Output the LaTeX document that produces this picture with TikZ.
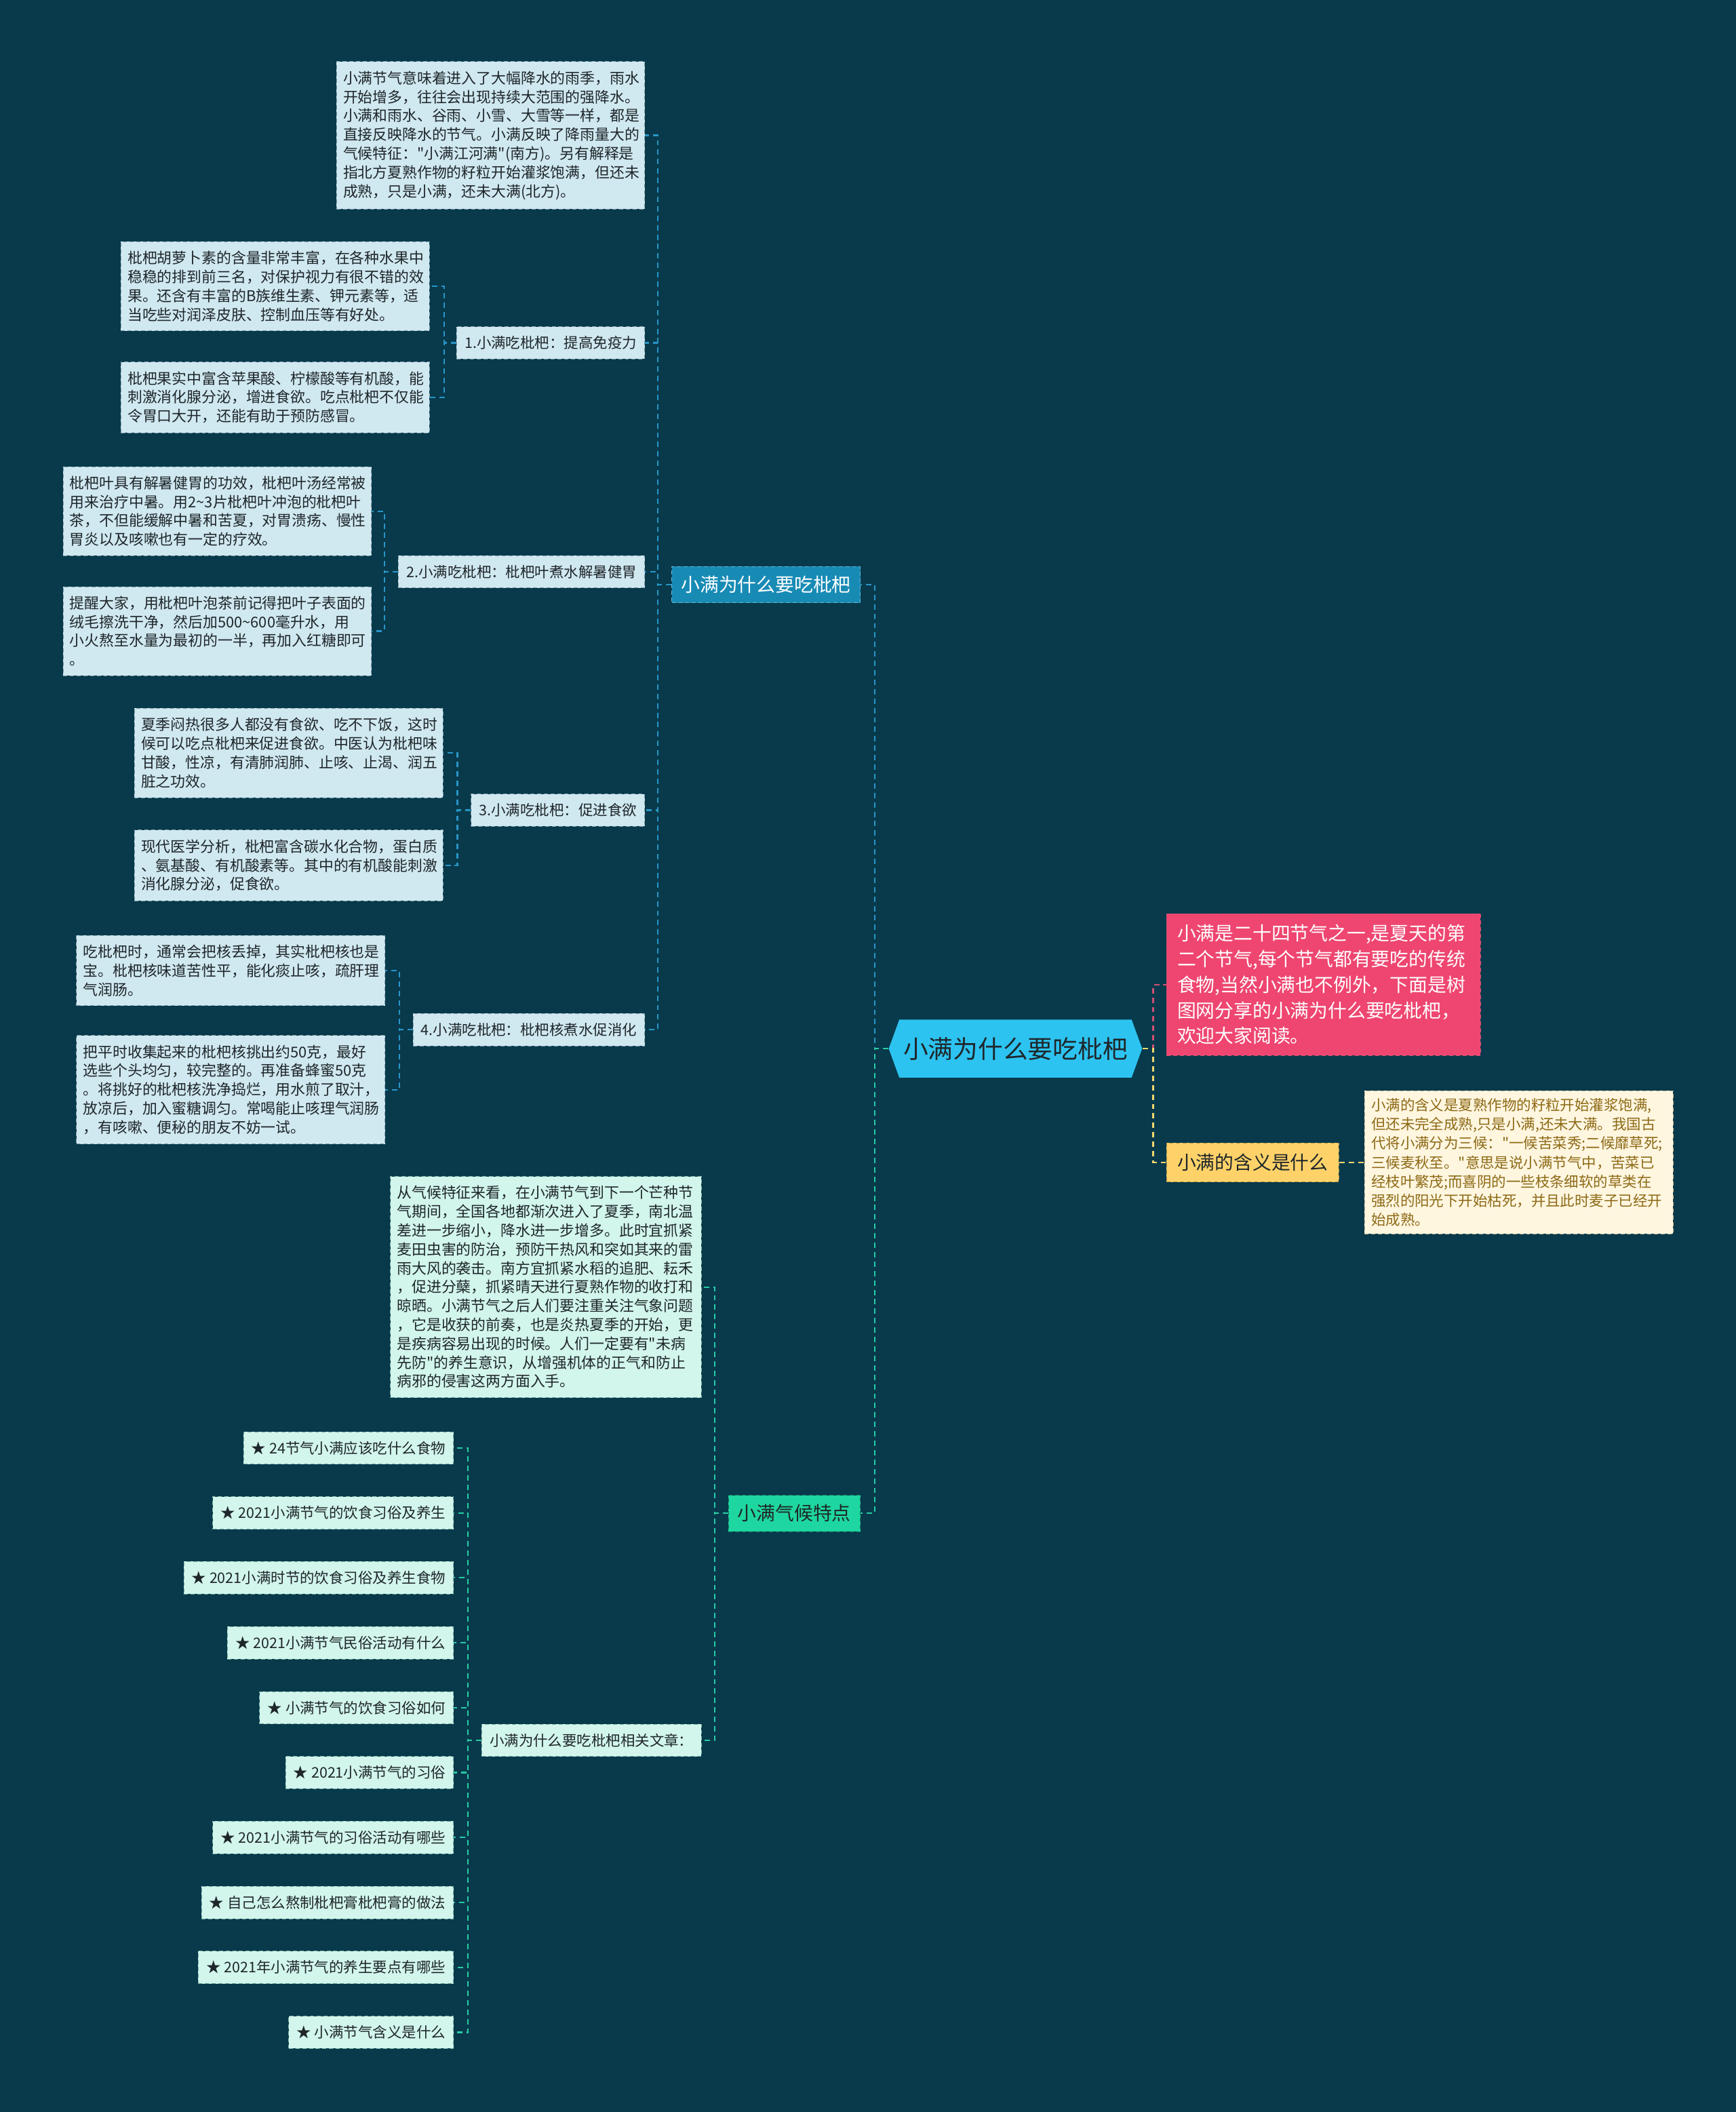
\documentclass[tikz,border=0pt]{standalone}
\usepackage{fontspec}
\newfontfamily\cjkfont{Noto Sans CJK SC}
\usetikzlibrary{shapes.symbols}

\definecolor{bgcol}{RGB}{8,58,76}
\definecolor{topiccol}{RGB}{45,195,240}
\definecolor{bluefill}{RGB}{24,139,181}
\definecolor{bluenote}{RGB}{208,232,240}
\definecolor{blueedge}{RGB}{130,160,172}
\definecolor{bluelink}{RGB}{40,150,200}
\definecolor{greenfill}{RGB}{30,214,160}
\definecolor{mintnote}{RGB}{210,245,236}
\definecolor{mintedge}{RGB}{120,175,160}
\definecolor{greenlink}{RGB}{40,205,165}
\definecolor{pinkfill}{RGB}{238,70,112}
\definecolor{pinklink}{RGB}{210,80,115}
\definecolor{yellowfill}{RGB}{255,210,105}
\definecolor{yellowlink}{RGB}{245,215,110}
\definecolor{creamfill}{RGB}{255,246,224}
\definecolor{creamtext}{RGB}{140,105,20}
\definecolor{darktext}{RGB}{30,38,42}

\newcommand\txtsize[2]{\cjkfont\fontsize{#1}{#2}\selectfont}

\tikzset{
  topic/.style={shape=signal, signal to=west and east, signal pointer angle=140,
    fill=topiccol, text=darktext, minimum height=43pt, inner xsep=3pt,
    font=\txtsize{18.5}{22}},
  bluemain/.style={fill=bluefill, draw=bluelink!70!white, dash pattern=on 3pt off 2pt,
    text=white, inner xsep=7pt, inner ysep=7pt, font=\txtsize{14}{17}},
  greenmain/.style={fill=greenfill, draw=greenlink!60!black, dash pattern=on 3pt off 2pt,
    text=darktext, inner xsep=7pt, inner ysep=7pt, font=\txtsize{14}{17}},
  sublabel/.style={fill=bluenote, draw=blueedge, dash pattern=on 3pt off 2pt,
    text=darktext, inner xsep=6pt, inner ysep=7pt, font=\txtsize{10.8}{14}},
  note/.style={fill=bluenote, draw=blueedge, dash pattern=on 3pt off 2pt,
    text=darktext, inner xsep=5pt, inner ysep=7pt, text width=219pt, align=left,
    font=\txtsize{11}{14}},
  mintlabel/.style={sublabel, fill=mintnote, draw=mintedge},
  mintnoteb/.style={note, fill=mintnote, draw=mintedge, text width=221pt},
  pinkbox/.style={fill=pinkfill, draw=pinklink, dash pattern=on 3pt off 2pt,
    text=white, inner xsep=8pt, inner ysep=8pt, text width=217pt, align=left,
    font=\txtsize{14}{19}},
  yellowbox/.style={fill=yellowfill, draw=yellowfill!70!black, dash pattern=on 3pt off 2pt,
    text=darktext, inner xsep=8pt, inner ysep=8pt, font=\txtsize{14}{17}},
  creambox/.style={fill=creamfill, draw=creamtext!50!white, dash pattern=on 3pt off 2pt,
    text=creamtext, inner xsep=5pt, inner ysep=5.5pt, text width=219pt, align=left,
    font=\txtsize{10.8}{14.2}},
  link/.style={line width=1.1pt, dash pattern=on 4pt off 3pt},
}

\begin{document}
\begin{tikzpicture}[x=10pt,y=-10pt]
    % Background
    \fill[bgcol] (0,0) rectangle (128.9,156.8);
    % Centre topic
    \node (root) at (75.4,77.85) [topic] {小满为什么要吃枇杷};

    % Right side
    \node (intro) at (86.6,73.1) [pinkbox, anchor=west] {小满是二十四节气之一,是夏天的第\\二个节气,每个节气都有要吃的传统\\食物,当然小满也不例外，下面是树\\图网分享的小满为什么要吃枇杷，\\欢迎大家阅读。};
    \node (mean) at (86.6,86.3) [yellowbox, anchor=west] {小满的含义是什么};
    \node (meantxt) at (101.3,86.3) [creambox, anchor=west] {小满的含义是夏熟作物的籽粒开始灌浆饱满,\\但还未完全成熟,只是小满,还未大满。我国古\\代将小满分为三候："一候苦菜秀;二候靡草死;\\三候麦秋至。"意思是说小满节气中，苦菜已\\经枝叶繁茂;而喜阴的一些枝条细软的草类在\\强烈的阳光下开始枯死，并且此时麦子已经开\\始成熟。};
    \draw[link, pinklink] (root.east) -- ++(0.8,0) |- (intro.west);
    \draw[link, yellowlink] (root.east) -- ++(0.8,0) |- (mean.west);
    \draw[link, yellowlink] (mean.east) -- (meantxt.west);

    % Upper left branch
    \node (why) at (63.9,43.4) [bluemain, anchor=east] {小满为什么要吃枇杷};
    \draw[link, bluelink] (root.west) -- ++(-1,0) |- (why.east);

    \node (rain) at (47.9,10.05) [note, anchor=east] {小满节气意味着进入了大幅降水的雨季，雨水\\开始增多，往往会出现持续大范围的强降水。\\小满和雨水、谷雨、小雪、大雪等一样，都是\\直接反映降水的节气。小满反映了降雨量大的\\气候特征："小满江河满"(南方)。另有解释是\\指北方夏熟作物的籽粒开始灌浆饱满，但还未\\成熟，只是小满，还未大满(北方)。};
    \node (p1) at (47.9,25.45) [sublabel, anchor=east] {1.小满吃枇杷：提高免疫力};
    \node (p2) at (47.9,42.45) [sublabel, anchor=east] {2.小满吃枇杷：枇杷叶煮水解暑健胃};
    \node (p3) at (47.9,60.15) [sublabel, anchor=east] {3.小满吃枇杷：促进食欲};
    \node (p4) at (47.9,76.45) [sublabel, anchor=east] {4.小满吃枇杷：枇杷核煮水促消化};
    \foreach \p in {rain,p1,p2,p3,p4}
        \draw[link, bluelink] (why.west) -- ++(-1,0) |- (\p.east);

    % 1. immunity
    \node (p1a) at (31.9,21.25) [note, anchor=east] {枇杷胡萝卜素的含量非常丰富，在各种水果中\\稳稳的排到前三名，对保护视力有很不错的效\\果。还含有丰富的B族维生素、钾元素等，适\\当吃些对润泽皮肤、控制血压等有好处。};
    \node (p1b) at (31.9,29.5) [note, anchor=east] {枇杷果实中富含苹果酸、柠檬酸等有机酸，能\\刺激消化腺分泌，增进食欲。吃点枇杷不仅能\\令胃口大开，还能有助于预防感冒。};
    % 2. leaves
    \node (p2a) at (27.6,37.95) [note, anchor=east] {枇杷叶具有解暑健胃的功效，枇杷叶汤经常被\\用来治疗中暑。用2\textasciitilde3片枇杷叶冲泡的枇杷叶\\茶，不但能缓解中暑和苦夏，对胃溃疡、慢性\\胃炎以及咳嗽也有一定的疗效。};
    \node (p2b) at (27.6,46.85) [note, anchor=east] {提醒大家，用枇杷叶泡茶前记得把叶子表面的\\绒毛擦洗干净，然后加500\textasciitilde600毫升水，用\\小火熬至水量为最初的一半，再加入红糖即可\\。};
    % 3. appetite
    \node (p3a) at (32.9,55.9) [note, anchor=east] {夏季闷热很多人都没有食欲、吃不下饭，这时\\候可以吃点枇杷来促进食欲。中医认为枇杷味\\甘酸，性凉，有清肺润肺、止咳、止渴、润五\\脏之功效。};
    \node (p3b) at (32.9,64.25) [note, anchor=east] {现代医学分析，枇杷富含碳水化合物，蛋白质\\、氨基酸、有机酸素等。其中的有机酸能刺激\\消化腺分泌，促食欲。};
    % 4. kernels
    \node (p4a) at (28.6,72.05) [note, anchor=east] {吃枇杷时，通常会把核丢掉，其实枇杷核也是\\宝。枇杷核味道苦性平，能化痰止咳，疏肝理\\气润肠。};
    \node (p4b) at (28.6,80.9) [note, anchor=east] {把平时收集起来的枇杷核挑出约50克，最好\\选些个头均匀，较完整的。再准备蜂蜜50克\\。将挑好的枇杷核洗净捣烂，用水煎了取汁，\\放凉后，加入蜜糖调匀。常喝能止咳理气润肠\\，有咳嗽、便秘的朋友不妨一试。};
    \foreach \p/\d in {p1/-0.9,p2/-1,p3/-1,p4/-1}
    {
        \draw[link, bluelink] (\p.west) -- ++(\d,0) |- (\p a.east);
        \draw[link, bluelink] (\p.west) -- ++(\d,0) |- (\p b.east);
    }

    % Lower left branch
    \node (climate) at (63.9,112.35) [greenmain, anchor=east] {小满气候特点};
    \draw[link, greenlink] (root.west) -- ++(-1,0) |- (climate.east);
    \node (ctxt) at (52.1,95.55) [mintnoteb, anchor=east] {从气候特征来看，在小满节气到下一个芒种节\\气期间，全国各地都渐次进入了夏季，南北温\\差进一步缩小，降水进一步增多。此时宜抓紧\\麦田虫害的防治，预防干热风和突如其来的雷\\雨大风的袭击。南方宜抓紧水稻的追肥、耘禾\\，促进分蘖，抓紧晴天进行夏熟作物的收打和\\晾晒。小满节气之后人们要注重关注气象问题\\，它是收获的前奏，也是炎热夏季的开始，更\\是疾病容易出现的时候。人们一定要有"未病\\先防"的养生意识，从增强机体的正气和防止\\病邪的侵害这两方面入手。};
    \node (rel) at (52.1,129.2) [mintlabel, anchor=east] {小满为什么要吃枇杷相关文章：};
    \draw[link, greenlink] (climate.west) -- ++(-1,0) |- (ctxt.east);
    \draw[link, greenlink] (climate.west) -- ++(-1,0) |- (rel.east);

    % Related articles
    \foreach \txt [count=\i] in {★ 24节气小满应该吃什么食物, ★ 2021小满节气的饮食习俗及养生,
        ★ 2021小满时节的饮食习俗及养生食物, ★ 2021小满节气民俗活动有什么,
        ★ 小满节气的饮食习俗如何, ★ 2021小满节气的习俗, ★ 2021小满节气的习俗活动有哪些,
        ★ 自己怎么熬制枇杷膏枇杷膏的做法, ★ 2021年小满节气的养生要点有哪些,
        ★ 小满节气含义是什么}
    {
        \node (r\i) at (33.7, 107.5+4.82*\i-4.82) [mintlabel, anchor=east] {\txt};
        \draw[link, greenlink] (rel.west) -- ++(-1,0) |- (r\i.east);
    }
\end{tikzpicture}
\end{document}
